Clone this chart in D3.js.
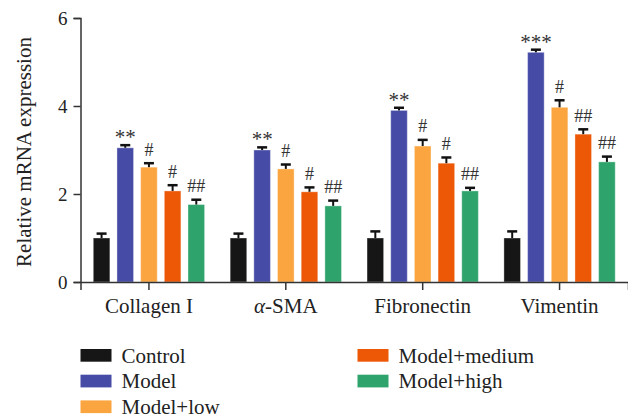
<!DOCTYPE html>
<html lang="en">
<head>
    <meta charset="UTF-8">
    <title>Relative mRNA expression</title>
    <style>
        body { margin: 0; background: #fff; }
        text { font-family: "Liberation Serif", "DejaVu Serif", serif; fill: #222; }
    </style>
</head>
<body>
    <div class="canvas"></div>

    <script src="https://cdnjs.cloudflare.com/ajax/libs/d3/7.8.5/d3.min.js"></script>

    <script>
        // data
        const categories = ["Collagen I", "α-SMA", "Fibronectin", "Vimentin"];
        const series = ["Control", "Model", "Model+low", "Model+medium", "Model+high"];
        const colors = ["#161616", "#464ca6", "#fba540", "#ec5806", "#2ea36b"];

        const control = [1.0, 1.0, 1.0, 1.0];
        const model = [3.05, 3.0, 3.90, 5.22];
        const low = [2.61, 2.57, 3.09, 3.97];
        const medium = [2.07, 2.05, 2.70, 3.36];
        const high = [1.76, 1.73, 2.07, 2.73];

        const controlErr = [0.10, 0.10, 0.15, 0.15];
        const modelErr = [0.06, 0.06, 0.06, 0.06];
        const lowErr = [0.09, 0.10, 0.14, 0.16];
        const mediumErr = [0.13, 0.10, 0.13, 0.11];
        const highErr = [0.11, 0.12, 0.07, 0.12];

        const controlMark = ["", "", "", ""];
        const modelMark = ["**", "**", "**", "***"];
        const lowMark = ["#", "#", "#", "#"];
        const mediumMark = ["#", "#", "#", "##"];
        const highMark = ["##", "##", "##", "##"];

        const yTicks = [0, 2, 4, 6];

        const values = [control, model, low, medium, high];
        const errors = [controlErr, modelErr, lowErr, mediumErr, highErr];
        const marks = [controlMark, modelMark, lowMark, mediumMark, highMark];

        const bars = [];
        categories.forEach((c, ci) => {
            series.forEach((s, si) => {
                bars.push({
                    cat: c, series: s, color: colors[si],
                    value: values[si][ci], err: errors[si][ci], mark: marks[si][ci]
                });
            });
        });

        const width = 628, height = 419;
        const serif = "'Liberation Serif', 'DejaVu Serif', serif";

        const svg = d3.select(".canvas").append("svg")
            .attr("width", width)
            .attr("height", height);

        const x0 = d3.scaleBand()
            .domain(categories)
            .range([80.5, 628])
            .paddingInner(0.135)
            .paddingOuter(0.0675);

        const x1 = d3.scaleBand()
            .domain(series)
            .range([0, x0.bandwidth()])
            .paddingInner(0.3)
            .paddingOuter(0.15);

        const y = d3.scaleLinear()
            .domain([0, 6])
            .range([282, 18]);

        // bars
        svg.append("g").selectAll("rect")
            .data(bars)
            .join("rect")
                .attr("x", d => x0(d.cat) + x1(d.series))
                .attr("y", d => y(d.value))
                .attr("width", x1.bandwidth())
                .attr("height", d => y(0) - y(d.value))
                .attr("fill", d => d.color)
                .attr("stroke", "#fff")
                .attr("stroke-opacity", 0.35)
                .attr("stroke-width", 1);

        // error bars (upper only)
        const eb = svg.append("g").selectAll("g")
            .data(bars)
            .join("g")
                .attr("transform", d => `translate(${x0(d.cat) + x1(d.series) + x1.bandwidth() / 2},0)`);

        eb.append("line")
            .attr("x1", 0).attr("x2", 0)
            .attr("y1", d => y(d.value))
            .attr("y2", d => y(d.value + d.err))
            .attr("stroke", "#111")
            .attr("stroke-width", 2);

        eb.append("line")
            .attr("x1", -5).attr("x2", 5)
            .attr("y1", d => y(d.value + d.err))
            .attr("y2", d => y(d.value + d.err))
            .attr("stroke", "#111")
            .attr("stroke-width", 2.5);

        // significance marks
        eb.filter(d => d.mark !== "")
            .append("text")
                .attr("text-anchor", "middle")
                .attr("y", d => y(d.value + d.err) - (d.mark.startsWith("*") ? 1 : 7.5))
                .style("font-family", serif)
                .style("font-size", d => d.mark.startsWith("*") ? "21px" : "18px")
                .style("fill", "#333")
                .text(d => d.mark);

        // y axis
        const yAxis = svg.append("g")
            .attr("transform", "translate(80.5,0)")
            .call(d3.axisLeft(y).tickValues(yTicks).tickSize(7).tickPadding(6).tickFormat(d3.format("d")));
        yAxis.select(".domain").attr("stroke", "#333").attr("stroke-width", 1.5);
        yAxis.selectAll(".tick line").attr("stroke", "#333").attr("stroke-width", 1.5);
        yAxis.selectAll(".tick text")
            .style("font-family", serif)
            .style("font-size", "19px")
            .style("fill", "#222");

        // x axis
        const xAxis = svg.append("g")
            .attr("transform", "translate(0,282)")
            .call(d3.axisBottom(x0).tickSizeOuter(0).tickSize(8).tickPadding(8));
        xAxis.select(".domain").attr("stroke", "#333").attr("stroke-width", 1.5);
        xAxis.selectAll(".tick line").attr("stroke", "#333").attr("stroke-width", 1.5);
        xAxis.selectAll(".tick text")
            .style("font-family", serif)
            .style("font-size", "21px")
            .style("fill", "#222")
            .each(function (d) {
                if (d.startsWith("α")) {
                    const t = d3.select(this).text(null);
                    t.append("tspan").style("font-style", "italic").text("α");
                    t.append("tspan").text(d.slice(1));
                }
            });

        // y title
        svg.append("text")
            .attr("transform", "translate(31,152) rotate(-90)")
            .attr("text-anchor", "middle")
            .style("font-family", serif)
            .style("font-size", "21px")
            .text("Relative mRNA expression");

        // legend
        const legend = svg.append("g").selectAll("g")
            .data(series)
            .join("g")
                .attr("transform", (d, i) => i < 3
                    ? `translate(80.5,${349 + i * 25.7})`
                    : `translate(357.5,${349 + (i - 3) * 25.7})`);

        legend.append("rect")
            .attr("width", 31)
            .attr("height", 12.7)
            .attr("fill", (d, i) => colors[i]);

        legend.append("text")
            .attr("x", 41)
            .attr("y", 13.5)
            .style("font-family", serif)
            .style("font-size", "21px")
            .text(d => d);
    </script>
</body>
</html>
